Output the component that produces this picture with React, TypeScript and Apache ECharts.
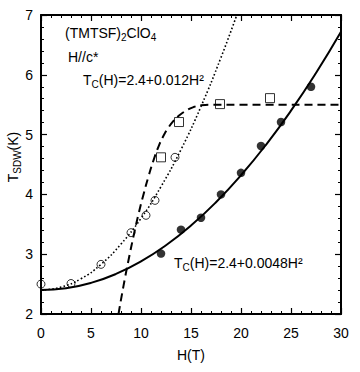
import React, { useEffect, useRef } from "react";
import * as echarts from "echarts";

const openCircleH = [0, 3, 6, 9, 10.5, 11.4, 13.4];
const openCircleT = [2.5, 2.51, 2.83, 3.36, 3.65, 3.9, 4.62];

const filledCircleH = [12, 14, 16, 18, 20, 22, 24, 27];
const filledCircleT = [3.01, 3.41, 3.61, 4.0, 4.36, 4.81, 5.21, 5.8];

const squareH = [12, 13.8, 17.9, 22.9];
const squareT = [4.62, 5.21, 5.51, 5.61];

// fit curve T = 2.4 + 0.0048 H^2
const solidH = [0, 2.5, 5, 7.5, 10, 12.5, 15, 17.5, 20, 22.5, 25, 27.5, 30];
const solidT = [2.4, 2.43, 2.52, 2.67, 2.88, 3.15, 3.48, 3.87, 4.32, 4.83, 5.4, 6.03, 6.72];

// fit curve T = 2.4 + 0.012 H^2
const dottedH = [0, 2, 4, 6, 8, 10, 12, 14, 16, 18, 19.58];
const dottedT = [2.4, 2.45, 2.59, 2.83, 3.17, 3.6, 4.13, 4.75, 5.47, 6.29, 7.0];

// dashed guide curve
const dashedH = [7.75, 8.25, 8.75, 9.25, 9.75, 10.25, 10.75, 11.25, 11.75, 12.25, 12.75, 13.25, 13.75, 14.5, 15.25, 16, 17, 30];
const dashedT = [2.0, 2.47, 2.9, 3.3, 3.67, 4.0, 4.3, 4.57, 4.8, 4.98, 5.12, 5.23, 5.31, 5.4, 5.46, 5.49, 5.5, 5.5];

const xTicks = [0, 5, 10, 15, 20, 25, 30];
const yTicks = [2, 3, 4, 5, 6, 7];

const FONT = "'Liberation Sans', Arial, Helvetica, sans-serif";

const zip = (a: number[], b: number[]) => a.map((v, i) => [v, b[i]]);

export default function App() {
  const ref = useRef<HTMLDivElement>(null);
  useEffect(() => {
    if (!ref.current) return;
    const chart = echarts.init(ref.current, null, { renderer: "svg" });
    const axisCommon = {
      type: "value" as const,
      axisLine: { show: true, onZero: false, lineStyle: { color: "#000", width: 2 } },
      axisTick: { show: true, inside: true, length: 6, lineStyle: { color: "#000", width: 1.2 } },
      minorTick: { show: true, splitNumber: 5, length: 3, lineStyle: { color: "#000", width: 1 } },
      splitLine: { show: false },
      minorSplitLine: { show: false },
    };
    const xLabel = {
      color: "#000",
      fontSize: 14,
      fontFamily: FONT,
      margin: 12,
    };
    const yLabel = {
      color: "#000",
      fontSize: 14,
      fontFamily: FONT,
      margin: 8,
    };
    const sub = { fontSize: 10, fontFamily: FONT, fill: "#000", padding: [8, 0, 0, 0] };
    const main = { fontSize: 14, fontFamily: FONT, fill: "#000" };
    chart.setOption({
      animation: false,
      backgroundColor: "#fff",
      grid: { left: 41, right: 19, top: 15, bottom: 58 },
      xAxis: [
        {
          ...axisCommon,
          position: "bottom",
          min: xTicks[0],
          max: xTicks[xTicks.length - 1],
          interval: 5,
          axisLabel: xLabel,
        },
        {
          ...axisCommon,
          position: "top",
          min: xTicks[0],
          max: xTicks[xTicks.length - 1],
          interval: 5,
          axisLabel: { show: false },
        },
      ],
      yAxis: [
        {
          ...axisCommon,
          position: "left",
          min: yTicks[0],
          max: yTicks[yTicks.length - 1],
          interval: 1,
          axisLabel: yLabel,
        },
        {
          ...axisCommon,
          position: "right",
          min: yTicks[0],
          max: yTicks[yTicks.length - 1],
          interval: 1,
          axisLabel: { show: false },
        },
      ],
      series: [
        {
          type: "line",
          data: zip(solidH, solidT),
          smooth: 0.5,
          symbol: "none",
          lineStyle: { color: "#000", width: 2 },
          z: 2,
        },
        {
          type: "line",
          data: zip(dottedH, dottedT),
          smooth: 0.5,
          symbol: "none",
          lineStyle: { color: "#000", width: 1.6, type: [1.6, 2.2] },
          z: 2,
        },
        {
          type: "line",
          data: zip(dashedH, dashedT),
          smooth: 0.5,
          symbol: "none",
          lineStyle: { color: "#000", width: 2, type: [8, 5] },
          z: 2,
        },
        {
          type: "scatter",
          data: zip(openCircleH, openCircleT),
          symbol: "circle",
          symbolSize: 8,
          itemStyle: { color: "rgba(255,255,255,0)", borderColor: "#000", borderWidth: 1 },
          z: 3,
        },
        {
          type: "scatter",
          data: zip(filledCircleH, filledCircleT),
          symbol: "circle",
          symbolSize: 8.5,
          itemStyle: { color: "#000" },
          z: 3,
        },
        {
          type: "scatter",
          data: zip(squareH, squareT),
          symbol: "rect",
          symbolSize: 9,
          itemStyle: { color: "rgba(255,255,255,0)", borderColor: "#000", borderWidth: 1 },
          z: 3,
        },
      ],
      graphic: [
        {
          type: "text",
          x: 65,
          y: 33,
          style: {
            text: "(TMTSF){sub|2}ClO{sub|4}",
            ...main,
            verticalAlign: "middle",
            rich: { sub },
          },
        },
        {
          type: "text",
          x: 68,
          y: 57,
          style: { text: "H//c*", ...main, verticalAlign: "middle" },
        },
        {
          type: "text",
          x: 83,
          y: 80,
          style: {
            text: "T{sub|C}(H)=2.4+0.012H²",
            ...main,
            verticalAlign: "middle",
            rich: { sub },
          },
        },
        {
          type: "text",
          x: 174,
          y: 263,
          style: {
            text: "T{sub|C}(H)=2.4+0.0048H²",
            ...main,
            verticalAlign: "middle",
            rich: { sub },
          },
        },
        {
          type: "text",
          x: 191,
          y: 355,
          style: { text: "H(T)", ...main, align: "center", verticalAlign: "middle" },
        },
        {
          type: "text",
          x: 13,
          y: 157,
          rotation: Math.PI / 2,
          style: {
            text: "T{sub|SDW}(K)",
            ...main,
            align: "center",
            verticalAlign: "middle",
            rich: { sub },
          },
        },
      ],
    });
    return () => chart.dispose();
  }, []);
  return (
    <div
      ref={ref}
      style={{ position: "fixed", left: 0, top: 0, width: 360, height: 372 }}
    />
  );
}
